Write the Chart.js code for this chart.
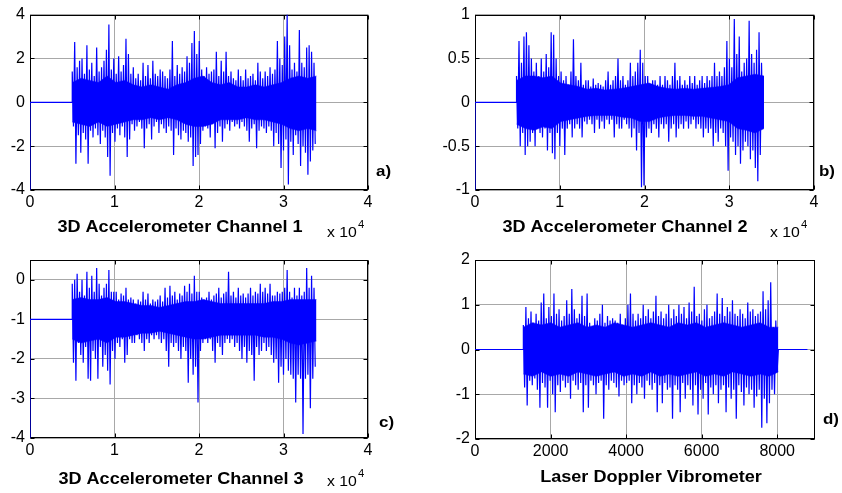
<!DOCTYPE html>
<html>
<head>
<meta charset="utf-8">
<script src="https://cdn.jsdelivr.net/npm/chart.js"></script>
<style>
  body { margin: 0; background: #fff; width: 842px; height: 493px; overflow: hidden; }
  .panel { position: absolute; }
</style>
</head>
<body>
<div class="panel" style="left:0;top:0;width:420px;height:245px"><canvas id="chartA"></canvas></div>
<div class="panel" style="left:420px;top:0;width:422px;height:245px"><canvas id="chartB"></canvas></div>
<div class="panel" style="left:0;top:245px;width:420px;height:248px"><canvas id="chartC"></canvas></div>
<div class="panel" style="left:420px;top:245px;width:422px;height:248px"><canvas id="chartD"></canvas></div>
<script>
// Panel a) 3D accelerometer channel 1: quiet lead-in, then peak / trough envelope
const leadA = [[0, -4], [0, 0], [5000, 0]];
const spanA = [5000, 33900];
const peaksA = [1.4, 2.75, 1.6, 1.9, 2.0, 1.3, 2.6, 1.5, 1.8, 1.2, 2.5, 1.4, 1.6, 1.9, 2.4, 3.55, 1.5, 2.0, 1.3, 2.1,
    1.4, 1.7, 2.9, 2.2, 1.3, 1.6, 1.1, 1.3, 1.0, 1.8, 1.2, 1.7, 1.1, 1.9, 1.3, 1.2, 1.5, 1.4, 1.2, 1.1,
    1.5, 2.8, 1.2, 1.7, 1.3, 1.6, 1.4, 2.1, 1.8, 2.7, 3.25, 2.2, 2.8, 1.5, 1.2, 1.6, 1.3, 1.4, 1.5, 2.3,
    1.2, 1.9, 1.4, 2.3, 1.2, 1.4, 1.1, 1.0, 1.5, 1.2, 1.0, 1.5, 1.1, 1.2, 1.3, 1.0, 1.8, 1.4, 1.1, 1.4,
    1.2, 1.6, 1.3, 1.5, 2.8, 2.0, 1.7, 3.0, 4.0, 2.6, 1.5, 1.8, 1.4, 3.3, 1.8, 1.6, 2.5, 2.6, 2.3, 1.8];
const troughsA = [-1.1, -2.8, -1.5, -2.3, -1.4, -1.7, -2.8, -1.3, -1.6, -1.2, -1.5, -1.9, -1.3, -1.6, -2.5, -3.35, -1.4, -1.8, -1.2, -1.5,
    -1.1, -1.6, -2.5, -1.7, -1.0, -1.3, -1.1, -0.9, -1.2, -2.1, -1.2, -1.0, -1.7, -1.1, -0.9, -1.4, -1.0, -1.2, -1.4, -1.1,
    -1.3, -2.4, -1.2, -1.5, -1.7, -1.3, -1.4, -1.8, -1.6, -2.9, -2.5, -2.4, -1.9, -1.3, -1.1, -1.2, -1.6, -1.0, -2.1, -1.4,
    -1.1, -1.8, -1.2, -1.0, -1.3, -0.9, -1.1, -1.0, -1.2, -0.9, -1.1, -1.3, -1.8, -1.2, -1.0, -2.1, -1.3, -1.1, -1.2, -1.4,
    -1.1, -1.3, -2.0, -1.4, -1.9, -3.0, -2.2, -1.7, -3.75, -1.8, -2.4, -1.5, -1.9, -2.9, -2.0, -2.3, -3.3, -2.7, -2.2, -1.9];
// dense (solid-looking) core of the trace, upper and lower edge
const coreHiA = [0.9, 1.1, 1.0, 0.9, 1.2, 0.9, 1.0, 0.8, 0.7, 0.8, 0.7, 0.6, 0.8, 0.9, 1.1, 1.2, 0.9, 0.8, 0.9, 0.7,
    0.7, 0.8, 0.7, 0.8, 0.9, 1.1, 1.2, 1.1, 1.2];
const coreLoA = [-0.9, -1.0, -1.1, -0.9, -1.1, -1.0, -0.9, -0.8, -0.8, -0.7, -0.8, -0.7, -0.8, -1.0, -1.1, -1.1, -1.0, -0.8, -0.8, -0.8,
    -0.7, -0.8, -0.8, -0.9, -1.0, -1.2, -1.3, -1.2, -1.3];

// Panel b) channel 2
const leadB = [[0, -1], [0, 0], [4900, 0]];
const spanB = [4900, 34100];
const peaksB = [0.3, 0.7, 0.45, 0.75, 0.8, 0.65, 0.5, 0.35, 0.45, 0.3, 0.5, 0.35, 0.55, 0.4, 0.8, 0.77, 0.5, 0.3, 0.35, 0.25,
    0.3, 0.2, 0.35, 0.72, 0.3, 0.25, 0.45, 0.2, 0.25, 0.25, 0.18, 0.27, 0.2, 0.22, 0.2, 0.18, 0.25, 0.35, 0.2, 0.25,
    0.3, 0.5, 0.25, 0.3, 0.2, 0.25, 0.45, 0.3, 0.35, 0.45, 0.6, 0.45, 0.3, 0.3, 0.2, 0.25, 0.25, 0.2, 0.3, 0.2,
    0.3, 0.25, 0.2, 0.3, 0.45, 0.25, 0.3, 0.2, 0.25, 0.2, 0.3, 0.22, 0.3, 0.2, 0.25, 0.3, 0.22, 0.3, 0.25, 0.3,
    0.45, 0.3, 0.35, 0.3, 0.4, 0.7, 0.5, 0.4, 0.95, 0.55, 0.75, 0.35, 0.45, 0.5, 0.93, 0.55, 0.45, 0.6, 0.8, 0.45];
const troughsB = [-0.3, -0.5, -0.35, -0.6, -0.5, -0.45, -0.35, -0.5, -0.3, -0.35, -0.4, -0.3, -0.55, -0.35, -0.58, -0.65, -0.35, -0.5, -0.3, -0.6,
    -0.3, -0.25, -0.4, -0.3, -0.25, -0.3, -0.4, -0.22, -0.25, -0.2, -0.25, -0.35, -0.2, -0.3, -0.22, -0.3, -0.2, -0.25, -0.2, -0.4,
    -0.25, -0.3, -0.3, -0.2, -0.25, -0.3, -0.4, -0.3, -0.55, -0.35, -0.97, -0.95, -0.4, -0.3, -0.35, -0.25, -0.3, -0.4, -0.25, -0.3,
    -0.25, -0.45, -0.3, -0.25, -0.4, -0.3, -0.25, -0.3, -0.22, -0.3, -0.25, -0.2, -0.3, -0.25, -0.3, -0.4, -0.3, -0.35, -0.3, -0.5,
    -0.35, -0.45, -0.3, -0.35, -0.5, -0.78, -0.4, -0.45, -0.6, -0.5, -0.7, -0.55, -0.45, -0.5, -0.65, -0.55, -0.75, -0.9, -0.6, -0.3];
const coreHiB = [0.25, 0.3, 0.3, 0.28, 0.3, 0.22, 0.2, 0.18, 0.15, 0.16, 0.14, 0.15, 0.16, 0.18, 0.2, 0.22, 0.18, 0.16, 0.15, 0.16,
    0.15, 0.16, 0.17, 0.18, 0.2, 0.28, 0.3, 0.32, 0.3];
const coreLoB = [-0.25, -0.3, -0.32, -0.28, -0.3, -0.22, -0.2, -0.18, -0.16, -0.15, -0.15, -0.15, -0.17, -0.18, -0.22, -0.22, -0.18, -0.16, -0.15, -0.15,
    -0.16, -0.16, -0.18, -0.2, -0.22, -0.3, -0.32, -0.35, -0.3];

// Panel c) channel 3 (offset around -1)
const leadC = [[0, -4], [0, -1], [5000, -1]];
const spanC = [5000, 33900];
const peaksC = [-0.1, 0.0, 0.15, -0.3, 0.0, -0.4, 0.2, -0.2, 0.1, -0.3, 0.3, -0.1, -0.4, -0.2, -0.1, 0.25, -0.3, -0.3, -0.3, -0.5,
    -0.35, -0.4, -0.2, -0.5, -0.45, -0.5, -0.6, -0.5, -0.55, -0.3, -0.5, -0.35, -0.6, -0.5, -0.55, -0.5, -0.4, -0.55, -0.2, -0.45,
    -0.15, -0.4, -0.3, -0.5, -0.35, -0.4, -0.15, -0.3, -0.1, -0.35, 0.1, -0.3, -0.3, -0.45, -0.5, -0.45, -0.3, -0.5, -0.4, -0.35,
    -0.2, -0.45, -0.35, -0.3, 0.2, -0.4, -0.3, -0.45, -0.2, -0.4, -0.35, -0.45, -0.35, -0.2, -0.4, -0.3, -0.35, -0.1, -0.3, -0.2,
    -0.35, -0.1, -0.4, -0.4, -0.3, -0.35, -0.3, -0.2, 0.25, -0.3, -0.45, -0.2, -0.4, -0.2, -0.4, -0.3, 0.3, -0.2, 0.1, -0.2];
const troughsC = [-2.1, -2.55, -1.6, -1.9, -2.1, -1.7, -2.5, -2.55, -1.8, -2.0, -2.5, -1.7, -2.2, -1.9, -2.3, -2.65, -1.8, -2.0, -1.6, -1.7,
    -1.5, -2.1, -1.9, -1.5, -1.6, -1.6, -1.4, -1.5, -1.6, -1.8, -1.5, -1.6, -1.4, -1.5, -1.4, -1.5, -1.6, -1.5, -1.8, -2.2,
    -1.6, -1.7, -1.6, -1.8, -2.0, -1.7, -1.8, -2.6, -2.0, -2.4, -2.2, -3.1, -1.8, -1.6, -1.5, -1.6, -1.5, -1.8, -2.1, -1.6,
    -1.7, -1.9, -1.6, -1.5, -1.6, -1.5, -1.7, -1.6, -1.8, -2.0, -1.7, -2.1, -1.8, -1.9, -2.55, -1.7, -1.9, -1.8, -1.6, -1.8,
    -1.7, -1.9, -2.1, -2.0, -2.6, -2.2, -2.4, -2.0, -2.3, -2.4, -2.5, -3.1, -2.4, -2.5, -3.9, -2.5, -2.4, -3.25, -2.5, -2.2];
const coreHiC = [-0.5, -0.45, -0.5, -0.5, -0.45, -0.55, -0.55, -0.6, -0.65, -0.65, -0.7, -0.65, -0.6, -0.55, -0.55, -0.5, -0.55, -0.6, -0.6, -0.6,
    -0.6, -0.6, -0.6, -0.55, -0.55, -0.5, -0.5, -0.5, -0.5];
const coreLoC = [-1.5, -1.6, -1.55, -1.5, -1.6, -1.45, -1.45, -1.4, -1.35, -1.35, -1.3, -1.35, -1.4, -1.45, -1.5, -1.5, -1.45, -1.4, -1.4, -1.4,
    -1.4, -1.4, -1.45, -1.45, -1.5, -1.6, -1.65, -1.6, -1.55];

// Panel d) laser doppler vibrometer
const leadD = [[0, 0], [1280, 0]];
const spanD = [1280, 8030];
const tailD = [[8030, 0], [8800, 0]];
const peaksD = [0.55, 0.95, 0.7, 0.85, 0.6, 0.8, 0.65, 1.05, 1.25, 0.7, 0.95, 0.75, 1.25, 0.8, 0.9, 0.65, 0.75, 1.1, 0.8, 1.35,
    0.9, 0.7, 0.8, 1.2, 0.75, 1.25, 0.6, 0.5, 0.7, 0.65, 0.8, 1.0, 0.6, 0.75, 0.65, 0.7, 0.65, 0.6, 0.8, 0.55,
    0.7, 1.0, 1.25, 0.8, 0.65, 0.8, 0.7, 1.0, 0.75, 0.9, 0.7, 0.85, 1.2, 0.75, 0.85, 0.7, 0.8, 1.0, 0.7, 0.9,
    0.75, 1.0, 0.8, 0.95, 0.7, 1.05, 0.85, 1.4, 0.75, 0.8, 0.65, 0.9, 1.0, 0.7, 0.75, 0.85, 1.25, 0.8, 1.15, 0.75,
    0.95, 0.85, 1.1, 0.8, 0.75, 0.9, 0.8, 0.7, 1.05, 0.85, 0.9, 0.75, 0.8, 0.85, 1.3, 0.9, 1.1, 1.5, 0.5, 0.65];
const troughsD = [-0.85, -1.25, -0.7, -0.8, -0.65, -0.9, -1.3, -0.75, -0.85, -1.3, -0.7, -1.0, -1.4, -0.8, -0.95, -0.7, -0.85, -0.75, -1.1, -0.7,
    -0.8, -0.9, -0.75, -1.4, -0.8, -1.3, -0.7, -0.8, -1.0, -0.75, -0.7, -1.55, -0.8, -0.9, -0.7, -0.75, -0.85, -1.05, -0.7, -0.8,
    -0.75, -0.7, -1.2, -0.8, -1.0, -0.75, -0.85, -1.1, -0.7, -0.8, -0.9, -0.75, -1.4, -0.8, -1.2, -0.75, -0.9, -0.85, -1.55, -0.8,
    -0.9, -1.4, -0.75, -1.1, -0.8, -0.9, -1.25, -0.8, -1.45, -0.9, -1.1, -0.75, -1.45, -0.85, -1.0, -0.8, -1.2, -0.9, -0.8, -1.4,
    -0.85, -1.1, -0.9, -1.55, -0.8, -0.95, -1.25, -0.85, -1.0, -0.9, -1.3, -1.05, -0.9, -1.75, -1.1, -1.65, -1.2, -0.9, -1.0, -0.5];
const coreHiD = [0.5, 0.6, 0.55, 0.6, 0.5, 0.55, 0.6, 0.5, 0.55, 0.5, 0.6, 0.55, 0.5, 0.55, 0.6, 0.55, 0.5, 0.6, 0.55, 0.6,
    0.5, 0.55, 0.6, 0.55, 0.5, 0.55, 0.6, 0.5, 0.5];
const coreLoD = [-0.55, -0.6, -0.5, -0.6, -0.55, -0.6, -0.5, -0.55, -0.6, -0.55, -0.5, -0.6, -0.55, -0.6, -0.5, -0.6, -0.55, -0.6, -0.55, -0.5,
    -0.6, -0.55, -0.6, -0.5, -0.55, -0.6, -0.55, -0.6, -0.5];

// Axis limits and tick values
const xRangeAcc = [0, 40000];
const xRangeLdv = [0, 9000];
const xTicksAcc = [0, 10000, 20000, 30000, 40000];
const xTicksLdv = [0, 2000, 4000, 6000, 8000];
const yRangeA = [-4, 4], yTicksA = [-4, -2, 0, 2, 4];
const yRangeB = [-1, 1], yTicksB = [-1, -0.5, 0, 0.5, 1];
const yRangeC = [-4, 0.5], yTicksC = [-4, -3, -2, -1, 0];
const yRangeD = [-2, 2], yTicksD = [-2, -1, 0, 1, 2];

// Turn the envelope arrays into a zig-zag trace: peak, trough, peak, ...
function buildTrace(lead, span, peaks, troughs, tail) {
    const pts = lead.map(p => ({ x: p[0], y: p[1] }));
    const step = (span[1] - span[0]) / peaks.length;
    peaks.forEach((p, i) => {
        pts.push({ x: span[0] + i * step, y: p });
        pts.push({ x: span[0] + (i + 0.5) * step, y: troughs[i] });
    });
    (tail || []).forEach(p => pts.push({ x: p[0], y: p[1] }));
    return pts;
}

// core edge readings spread evenly over the active span
function buildEdge(span, values) {
    const step = (span[1] - span[0]) / (values.length - 1);
    return values.map((v, i) => ({ x: span[0] + i * step, y: v }));
}

const FONT = 'Arial, "Liberation Sans", sans-serif';

// the figure looks slightly stretched sideways, so free text gets the same stretch
function stretchedText(ctx, text, x, y, font, align) {
    ctx.save();
    ctx.font = font;
    ctx.textAlign = align;
    ctx.translate(x, y);
    ctx.scale(1.13, 1);
    ctx.fillText(text, 0, 0);
    const w = ctx.measureText(text).width * 1.13;
    ctx.restore();
    return w;
}

// Box and inward ticks (under the trace, as in the original) plus the free text
const panelDecor = {
    id: 'panelDecor',
    beforeDatasetsDraw(chart) {
        const { ctx, chartArea: a, scales } = chart;
        const L = Math.round(a.left) + 0.5, R = Math.round(a.right) - 0.5;
        const T = Math.round(a.top) + 0.5, B = Math.round(a.bottom) - 0.5;
        ctx.save();
        ctx.strokeStyle = '#000';
        ctx.lineWidth = 1;
        ctx.beginPath();
        scales.x.ticks.forEach(t => {
            const px = Math.round(scales.x.getPixelForValue(t.value)) + 0.5;
            ctx.moveTo(px, B); ctx.lineTo(px, B - 4);
            ctx.moveTo(px, T); ctx.lineTo(px, T + 4);
        });
        scales.y.ticks.forEach(t => {
            const py = Math.round(scales.y.getPixelForValue(t.value)) + 0.5;
            ctx.moveTo(L, py); ctx.lineTo(L + 4, py);
            ctx.moveTo(R, py); ctx.lineTo(R - 4, py);
        });
        ctx.stroke();
        ctx.strokeRect(L, T, R - L, B - T);
        ctx.restore();
    },
    afterDraw(chart, args, opts) {
        const ctx = chart.ctx;
        ctx.save();
        ctx.fillStyle = '#000';
        ctx.textBaseline = 'middle';
        stretchedText(ctx, opts.xlabel, opts.xlabelPos[0], opts.xlabelPos[1], 'bold 16px ' + FONT, 'center');
        stretchedText(ctx, opts.letter, opts.letterPos[0], opts.letterPos[1], 'bold 15px ' + FONT, 'left');
        if (opts.expPos) {
            const w = stretchedText(ctx, 'x 10', opts.expPos[0], opts.expPos[1], '14px ' + FONT, 'left');
            stretchedText(ctx, '4', opts.expPos[0] + w + 1, opts.expPos[1] - 8, '10px ' + FONT, 'left');
        }
        ctx.restore();
    }
};

function makePanel(id, trace, upper, lower, xRange, xTicks, yRange, yTicks, box, deco, xFmt) {
    const tickFont = { family: FONT, size: 16 };
    const blue = '#0000ff';
    return new Chart(document.getElementById(id), {
        type: 'scatter',
        data: {
            datasets: [
                { data: trace, showLine: true, borderColor: blue, borderWidth: 1.2, pointRadius: 0, tension: 0, order: 0 },
                { data: upper, showLine: true, borderColor: blue, borderWidth: 0.5, backgroundColor: blue,
                  pointRadius: 0, tension: 0, fill: '+1', order: 1 },
                { data: lower, showLine: true, borderColor: blue, borderWidth: 0.5, pointRadius: 0, tension: 0, order: 2 }
            ]
        },
        options: {
            responsive: true,
            maintainAspectRatio: false,
            animation: false,
            events: [],
            layout: { padding: { top: box.top, right: box.right, left: 0, bottom: 0 } },
            plugins: { legend: { display: false }, tooltip: { enabled: false }, panelDecor: deco },
            scales: {
                x: {
                    type: 'linear', min: xRange[0], max: xRange[1],
                    afterBuildTicks: s => { s.ticks = xTicks.map(v => ({ value: v })); },
                    afterFit: s => { s.height = box.xh; },
                    grid: { color: '#a8a8a8', drawTicks: false },
                    border: { display: false },
                    ticks: { autoSkip: false, maxRotation: 0, padding: 3, color: '#000', font: tickFont, callback: xFmt }
                },
                y: {
                    type: 'linear', min: yRange[0], max: yRange[1],
                    afterBuildTicks: s => { s.ticks = yTicks.map(v => ({ value: v })); },
                    afterFit: s => { s.width = box.yw; },
                    grid: { color: '#a8a8a8', drawTicks: false },
                    border: { display: false },
                    ticks: { autoSkip: false, padding: 5, color: '#000', font: tickFont, callback: v => String(v) }
                }
            }
        },
        plugins: [panelDecor]
    });
}

const perTenThousand = v => String(v / 10000);
const plain = v => String(v);

makePanel('chartA', buildTrace(leadA, spanA, peaksA, troughsA), buildEdge(spanA, coreHiA), buildEdge(spanA, coreLoA),
    xRangeAcc, xTicksAcc, yRangeA, yTicksA,
    { top: 11, right: 52, yw: 30, xh: 55 },
    { xlabel: '3D Accelerometer Channel 1', xlabelPos: [180, 228], letter: 'a)', letterPos: [376, 172], expPos: [327, 233] },
    perTenThousand);
makePanel('chartB', buildTrace(leadB, spanB, peaksB, troughsB), buildEdge(spanB, coreHiB), buildEdge(spanB, coreLoB),
    xRangeAcc, xTicksAcc, yRangeB, yTicksB,
    { top: 10, right: 28, yw: 55, xh: 55 },
    { xlabel: '3D Accelerometer Channel 2', xlabelPos: [205, 228], letter: 'b)', letterPos: [399, 172], expPos: [350, 233] },
    perTenThousand);
makePanel('chartC', buildTrace(leadC, spanC, peaksC, troughsC), buildEdge(spanC, coreHiC), buildEdge(spanC, coreLoC),
    xRangeAcc, xTicksAcc, yRangeC, yTicksC,
    { top: 15, right: 52, yw: 30, xh: 55 },
    { xlabel: '3D Accelerometer Channel 3', xlabelPos: [181, 235], letter: 'c)', letterPos: [379, 178], expPos: [327, 237] },
    perTenThousand);
makePanel('chartD', buildTrace(leadD, spanD, peaksD, troughsD, tailD), buildEdge(spanD, coreHiD), buildEdge(spanD, coreLoD),
    xRangeLdv, xTicksLdv, yRangeD, yTicksD,
    { top: 15, right: 27, yw: 55, xh: 54 },
    { xlabel: 'Laser Doppler Vibrometer', xlabelPos: [231, 233], letter: 'd)', letterPos: [403, 175] },
    plain);
</script>
</body>
</html>
